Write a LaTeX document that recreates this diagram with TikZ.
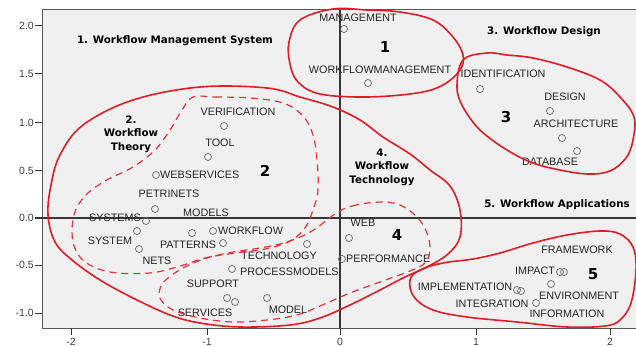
\documentclass[tikz,border=0pt]{standalone}
\usepackage{fontspec}
\setmainfont{Liberation Sans}
\newfontfamily\titlefont{DejaVu Sans}
\definecolor{cred}{RGB}{226,28,38}
\definecolor{dred}{RGB}{228,50,58}
\definecolor{plotbg}{RGB}{240,240,240}
\definecolor{axisc}{RGB}{55,55,55}
\definecolor{lblc}{RGB}{35,35,35}
\begin{document}
\begin{tikzpicture}[x=1pt,y=-1pt,
  lab/.style={font=\fontsize{10.8}{12}\selectfont, text=lblc, inner sep=0pt},
  wlab/.style={lab, anchor=west},
  pt/.style={circle, draw=black!60, line width=0.7pt, minimum size=7pt, inner sep=0pt},
  ttl/.style={font=\titlefont\bfseries\fontsize{10.3}{13.5}\selectfont, align=center, inner sep=0pt},
  num/.style={font=\titlefont\bfseries\fontsize{15}{15}\selectfont, inner sep=0pt},
  ticklab/.style={font=\fontsize{10.5}{12}\selectfont, text=black!75, inner sep=0pt},
  solidblob/.style={draw=cred, line width=1.6pt},
  dashblob/.style={draw=dred, line width=1.2pt, dash pattern=on 7pt off 5pt},
  axisline/.style={draw=axisc, line width=1.4pt}
]
\useasboundingbox (0,0) rectangle (636,347);
\begin{scope}
\clip (0,0) rectangle (636,347);
\fill[white] (0,0) rectangle (636,347);
\draw[fill=plotbg, draw=black!65, line width=1pt] (42,10) rectangle (645,328);
% axis ticks
\foreach \yy/\ll in {26/2.0, 74/1.5, 123/1.0, 171/0.5, 218/0.0, 265/-0.5, 313/-1.0} {
  \draw[axisline, line width=1pt] (35,\yy) -- (42,\yy);
  \node[ticklab, anchor=east] (yl\yy) at (34,\yy) {\ll};
}
\foreach \xx/\ll in {71/-2, 207/-1, 340/0, 476/1, 610/2} {
  \draw[axisline, line width=1pt] (\xx,328) -- (\xx,335);
  \node[ticklab, anchor=north] (xl\xx) at (\xx,338) {\ll};
}
% center axes
\draw[axisline] (340,10) -- (340,328);
\draw[axisline] (35,218) -- (645,218);

% markers
\node[pt] (p1) at (344,29) {};
\node[pt] (p2) at (368,83) {};
\node[pt] (p3) at (480,89) {};
\node[pt] (p4) at (550,111) {};
\node[pt] (p5) at (562,138) {};
\node[pt] (p6) at (577,151) {};
\node[pt] (p7) at (224,126) {};
\node[pt] (p8) at (208,157) {};
\node[pt] (p9) at (156,175) {};
\node[pt] (p10) at (155,209) {};
\node[pt] (p11) at (146,221) {};
\node[pt] (p12) at (137,231) {};
\node[pt] (p13) at (139,249) {};
\node[pt] (p14) at (192,233) {};
\node[pt] (p15) at (213,231) {};
\node[pt] (p16) at (223,243) {};
\node[pt] (p17) at (307,244) {};
\node[pt] (p18) at (232,269) {};
\node[pt] (p19) at (227,298) {};
\node[pt] (p20) at (235,302) {};
\node[pt] (p21) at (267,298) {};
\node[pt] (p22) at (349,238) {};
\node[pt] (p23) at (342,259) {};
\node[pt] (p24) at (560,272) {};
\node[pt] (p25) at (564,272) {};
\node[pt] (p26) at (551,284) {};
\node[pt] (p27) at (517,290) {};
\node[pt] (p28) at (521,291) {};
\node[pt] (p29) at (536,303) {};

% labels
\node[lab] (lMan) at (358,18) {MANAGEMENT};
\node[lab] (lWfm) at (380,70) {WORKFLOWMANAGEMENT};
\node[lab] (lIde) at (503,74) {IDENTIFICATION};
\node[lab] (lDes) at (565,97) {DESIGN};
\node[lab] (lArc) at (576,124) {ARCHITECTURE};
\node[lab] (lDat) at (550,162) {DATABASE};
\node[lab] (lVer) at (238,112) {VERIFICATION};
\node[lab] (lToo) at (220,143) {TOOL};
\node[wlab] (lWbs) at (160,175) {WEBSERVICES};
\node[lab] (lPet) at (169,194) {PETRINETS};
\node[lab] (lSys) at (115,218) {SYSTEMS};
\node[lab] (lSy1) at (110,241) {SYSTEM};
\node[lab] (lNet) at (157,261) {NETS};
\node[lab] (lMod) at (206,213) {MODELS};
\node[wlab] (lWor) at (218,231) {WORKFLOW};
\node[lab] (lPat) at (188,245) {PATTERNS};
\node[lab] (lTec) at (279,256) {TECHNOLOGY};
\node[wlab] (lPro) at (240,272) {PROCESSMODELS};
\node[lab] (lSup) at (213,284) {SUPPORT};
\node[lab] (lMdl) at (288,310) {MODEL};
\node[lab] (lSer) at (205,313) {SERVICES};
\node[lab] (lWeb) at (363,223) {WEB};
\node[wlab] (lPer) at (346,259) {PERFORMANCE};
\node[lab] (lFra) at (577,250) {FRAMEWORK};
\node[lab] (lImp) at (535,271) {IMPACT};
\node[lab] (lIml) at (465,287) {IMPLEMENTATION};
\node[lab] (lEnv) at (579,296) {ENVIRONMENT};
\node[lab] (lInt) at (492,304) {INTEGRATION};
\node[lab] (lInf) at (567,314) {INFORMATION};

% titles
\node[ttl] (t1) at (175,41) {1. Workflow Management System};
\node[ttl] (t2) at (131,134) {2.\\Workflow\\Theory};
\node[ttl] (t3) at (544,32) {3. Workflow Design};
\node[ttl] (t4) at (382,167) {4.\\Workflow\\Technology};
\node[ttl] (t5) at (557,205) {5. Workflow Applications};

\node[num] (n1) at (385,47) {1};
\node[num] (n2) at (265,171) {2};
\node[num] (n3) at (506,117) {3};
\node[num] (n4) at (397,235) {4};
\node[num] (n5) at (593,274) {5};

% cluster outlines
\draw[solidblob] plot[smooth cycle, tension=0.6] coordinates {
 (289,42) (300,20) (333,9) (367,10) (400,12) (433,20) (453,37) (463,55)
 (460,70) (443,85) (417,93) (367,97) (320,94) (298,82) (290,64)};
\draw[solidblob] plot[smooth cycle, tension=0.6] coordinates {
 (463,60) (487,53) (507,55) (533,58) (567,67) (600,80) (620,97) (634,117)
 (633,140) (626,158) (610,171) (588,174) (560,170) (533,163) (507,150)
 (480,130) (463,107) (457,87)};
\draw[solidblob] plot[smooth cycle, tension=0.6] coordinates {
 (60,155) (83,125) (133,100) (200,87) (267,88) (300,97) (333,107) (360,120)
 (383,137) (410,154) (430,170) (450,186) (460,210) (460,237) (448,254)
 (427,267) (405,277) (380,290) (350,305) (320,318) (290,325) (240,327)
 (200,323) (170,315) (133,298) (100,280) (72,260) (55,242) (48,215) (51,185)};
\draw[solidblob] plot[smooth cycle, tension=0.6] coordinates {
 (410,280) (420,270) (443,263) (473,259) (500,253) (533,243) (567,235)
 (600,231) (620,234) (633,247) (636,270) (631,303) (620,320) (605,326)
 (567,327) (517,322) (467,317) (433,310) (414,297)};
\draw[dashblob] plot[smooth cycle, tension=0.6] coordinates {
 (193,97) (215,97) (250,98) (283,103) (303,116) (313,135) (317,160) (318,190)
 (313,210) (305,228) (290,241) (265,249) (235,253) (205,258) (180,266)
 (150,273) (110,272) (84,261) (73,242) (74,215) (85,196) (105,181)
 (133,167) (155,150) (170,130) (182,110)};
\draw[dashblob] plot[smooth cycle, tension=0.6] coordinates {
 (335,214) (352,206) (380,202) (400,205) (417,217) (427,233) (430,250)
 (425,263) (410,271) (380,282) (350,293) (320,306) (297,315) (267,320)
 (233,322) (200,318) (173,310) (160,298) (163,283) (183,268) (207,258)
 (233,252) (260,248) (287,242) (312,231)};
\end{scope}
\end{tikzpicture}
\end{document}
